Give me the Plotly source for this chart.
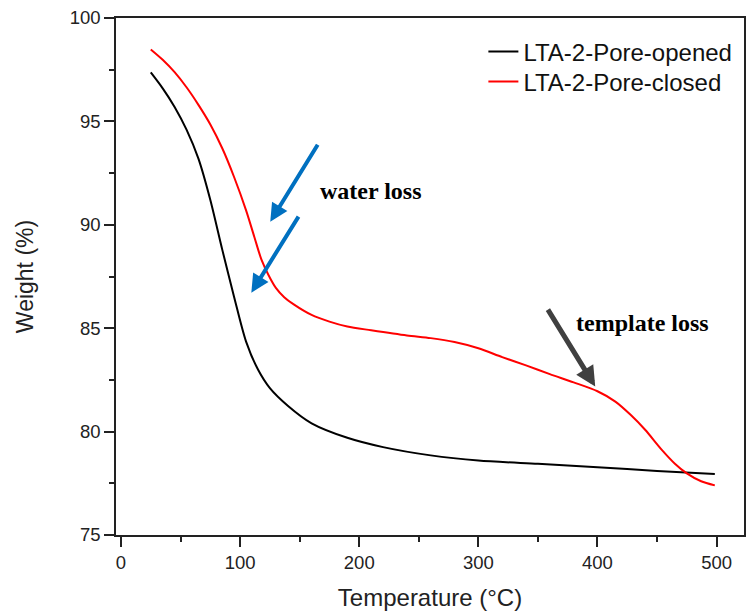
import plotly.graph_objects as go

# Data
temp_open = [25, 35, 45, 55, 65, 75, 85, 95, 105, 115, 125, 140, 160, 190, 220, 260, 300, 350, 400, 450, 498.5]
weight_open = [97.37, 96.6, 95.7, 94.6, 93.2, 91.2, 88.8, 86.5, 84.35, 83.0, 82.1, 81.25, 80.4, 79.7, 79.25, 78.85, 78.6, 78.44, 78.28, 78.1, 77.95]

temp_closed = [25, 35, 45, 55, 65, 75, 85, 95, 105, 112, 118, 124, 130, 137, 145, 160, 175, 190, 210, 240, 260, 280,
               300, 320, 340, 360, 380, 400, 415, 428, 440, 454, 465, 475, 487, 498.5]
weight_closed = [98.48, 97.98, 97.38, 96.65, 95.8, 94.85, 93.7, 92.3, 90.7, 89.4, 88.3, 87.55, 86.95, 86.5, 86.15, 85.64,
                 85.32, 85.08, 84.9, 84.65, 84.52, 84.33, 84.03, 83.6, 83.2, 82.78, 82.38, 81.95, 81.45, 80.8, 80.09,
                 79.12, 78.45, 77.98, 77.6, 77.4]

series_names = ["LTA-2-Pore-opened", "LTA-2-Pore-closed"]
series_colors = ["#000000", "#FF0000"]

x_ticks = [0, 100, 200, 300, 400, 500]
y_ticks = [75, 80, 85, 90, 95, 100]

# annotation arrows: (tail_x, tail_y, tip_x, tip_y)
water_arrows = [(165.9, 93.94, 125.3, 90.15), (149.8, 90.47, 109.4, 86.72)]
template_arrow = (357.6, 85.97, 398.1, 82.18)
labels = [("water loss", 210, 91.64), ("template loss", 437.7, 85.26)]

SANS = "Arial, Liberation Sans, sans-serif"
SERIF = "Times New Roman, Liberation Serif, serif"

fig = go.Figure()
fig.add_trace(go.Scatter(x=temp_open, y=weight_open, mode="lines", name=series_names[0], legend="legend",
                         line=dict(color=series_colors[0], width=2, shape="spline", smoothing=0.8)))
fig.add_trace(go.Scatter(x=temp_closed, y=weight_closed, mode="lines", name=series_names[1], legend="legend2",
                         line=dict(color=series_colors[1], width=2, shape="spline", smoothing=0.8)))

for (tx, ty, hx, hy) in water_arrows:
    fig.add_annotation(x=hx, y=hy, ax=tx, ay=ty, xref="x", yref="y", axref="x", ayref="y",
                       text="", showarrow=True, arrowhead=2, arrowsize=0.9, arrowwidth=4,
                       arrowcolor="#0070C0")
tx, ty, hx, hy = template_arrow
fig.add_annotation(x=hx, y=hy, ax=tx, ay=ty, xref="x", yref="y", axref="x", ayref="y",
                   text="", showarrow=True, arrowhead=2, arrowsize=0.8, arrowwidth=5,
                   arrowcolor="#404040")
for (txt, lx, ly) in labels:
    fig.add_annotation(x=lx, y=ly, xref="x", yref="y", text="<b>%s</b>" % txt, showarrow=False,
                       font=dict(family=SERIF, size=24, color="#000000"))

legend_style = dict(xanchor="left", yanchor="top", bgcolor="rgba(0,0,0,0)",
                    font=dict(family=SANS, size=24, color="#111111"))

fig.update_layout(
    width=748, height=611,
    margin=dict(l=116, r=2, t=18, b=76),
    paper_bgcolor="white", plot_bgcolor="white",
    font=dict(family=SANS, color="#222222"),
    showlegend=True,
    legend=dict(x=0.585, y=0.978, **legend_style),
    legend2=dict(x=0.585, y=0.920, **legend_style),
)
fig.update_xaxes(range=[-4.2, 523], tickvals=x_ticks, ticks="outside", ticklen=10, tickwidth=1.5,
                 tickcolor="#222222", showline=True, linecolor="#222222", linewidth=1.5, mirror=True,
                 showgrid=False, zeroline=False, tickfont=dict(size=18.5, color="#222222"),
                 minor=dict(dtick=50, ticks="outside", ticklen=5, tickwidth=1.5, tickcolor="#222222", showgrid=False),
                 title=dict(text="Temperature (°C)", font=dict(size=24, color="#222222"), standoff=17))
fig.update_yaxes(range=[75, 100], tickvals=y_ticks, ticks="outside", ticklen=10, tickwidth=1.5,
                 tickcolor="#222222", showline=True, linecolor="#222222", linewidth=1.5, mirror=True,
                 showgrid=False, zeroline=False, tickfont=dict(size=18.5, color="#222222"),
                 minor=dict(dtick=2.5, ticks="outside", ticklen=5, tickwidth=1.5, tickcolor="#222222", showgrid=False),
                 title=dict(text="Weight (%)", font=dict(size=23, color="#222222"), standoff=30))

fig.write_html("out.html")
